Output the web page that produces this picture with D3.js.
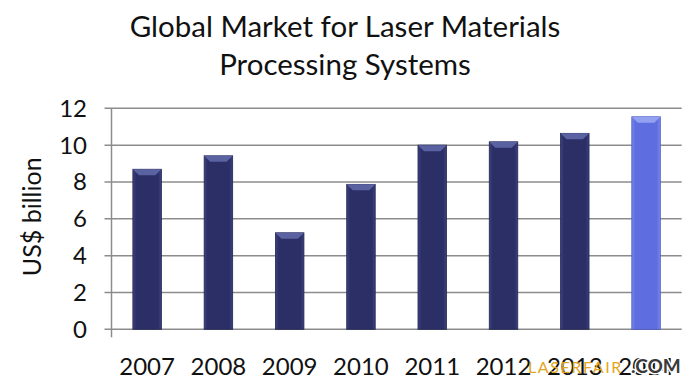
<!DOCTYPE html>
<html><head><meta charset="utf-8">
<script src="https://cdn.jsdelivr.net/npm/d3@7"></script>
<style>body{margin:0;background:#fff}svg{display:block}text{font-family:Lato,"Open Sans",sans-serif}</style>
</head><body><svg id="c" width="700" height="392"></svg>
<script>
const years = ["2007","2008","2009","2010","2011","2012","2013","2014"];
const values = [8.69, 9.42, 5.24, 7.87, 10.0, 10.18, 10.64, 11.54];
const yTicks = [0,2,4,6,8,10,12];
const titleLines = ["Global Market for Laser Materials","Processing Systems"];
const yTitle = "US$ billion";

const svg = d3.select("#c");
const pLeft = 111.5, pRight = 681.7, pTop = 108.3, pBottom = 329.3;
const x = d3.scaleBand().domain(years).range([pLeft, pRight]).paddingInner(0.6).paddingOuter(0.3);
const y = d3.scaleLinear().domain([0,12]).range([pBottom, pTop]);

const defs = svg.append("defs");
function grad(id, edge, mid){
  const g = defs.append("linearGradient").attr("id", id);
  g.append("stop").attr("offset","0%").attr("stop-color",edge);
  g.append("stop").attr("offset","12%").attr("stop-color",mid);
  g.append("stop").attr("offset","88%").attr("stop-color",mid);
  g.append("stop").attr("offset","100%").attr("stop-color",edge);
}
grad("gDark","#3c4280","#2b2f66");
grad("gLight","#7a88ec","#5e6ee0");

// gridlines
svg.append("g").selectAll("line").data(yTicks).join("line")
  .attr("x1", pLeft - 7).attr("x2", pRight)
  .attr("y1", d => y(d)).attr("y2", d => y(d))
  .attr("stroke", "#8c8c8c").attr("stroke-width", 1.5);
// axis line
svg.append("line").attr("x1", pLeft).attr("x2", pLeft).attr("y1", pTop).attr("y2", pBottom + 8)
  .attr("stroke", "#8c8c8c").attr("stroke-width", 1.5);

// bars
const bars = svg.append("g").selectAll("g").data(years).join("g");
bars.append("rect")
  .attr("x", d => x(d)).attr("width", x.bandwidth())
  .attr("y", (d,i) => y(values[i])).attr("height", (d,i) => y(0) - y(values[i]))
  .attr("fill", (d,i) => i === 7 ? "url(#gLight)" : "url(#gDark)")
  .attr("stroke", (d,i) => i === 7 ? "#4a58c0" : "#22264f").attr("stroke-width", 0.8);
bars.append("path")
  .attr("d", (d,i) => {
    const x0 = x(d), w = x.bandwidth(), t = y(values[i]), b = 6;
    return `M${x0},${t}L${x0+w},${t}L${x0+w-b},${t+b}L${x0+b},${t+b}Z`;
  })
  .attr("fill", (d,i) => i === 7 ? "#9aa6f2" : "#6068a8").attr("opacity", 0.9);

// y tick labels
svg.append("g").selectAll("text").data(yTicks).join("text")
  .attr("x", 87).attr("y", d => y(d)).attr("dy", "0.35em")
  .attr("text-anchor", "end").attr("font-size", 24).attr("fill", "#111")
  .text(d => d);

// x labels
svg.append("g").selectAll("text").data(years).join("text")
  .attr("x", d => x(d) + x.bandwidth()/2).attr("y", 375)
  .attr("text-anchor", "middle").attr("font-size", 24).attr("fill", "#111")
  .text(d => d);

// y title
svg.append("text").attr("transform", `translate(41,${(pTop+pBottom)/2 - 2}) rotate(-90)`)
  .attr("text-anchor", "middle").attr("font-size", 25).attr("fill", "#111").text(yTitle);

// title
svg.append("g").selectAll("text").data(titleLines).join("text")
  .attr("x", 345).attr("y", (d,i) => 37 + i*38)
  .attr("text-anchor", "middle").attr("font-size", 29.5).attr("fill", "#111")
  .text(d => d);

// watermark
svg.append("text").attr("x", 528).attr("y", 373).attr("font-size", 16)
  .attr("letter-spacing", 1.6)
  .attr("font-family", "'Liberation Serif',serif").attr("fill", "#e3a51e").text("LASERFAIR");
svg.append("text").attr("x", 631).attr("y", 373).attr("font-size", 19)
  .attr("font-family", "'DejaVu Sans',sans-serif").attr("font-weight", "bold")
  .attr("fill", "#3a3a3a").attr("stroke", "#fff").attr("stroke-width", 3)
  .attr("paint-order", "stroke").text(".COM");
</script></body></html>
